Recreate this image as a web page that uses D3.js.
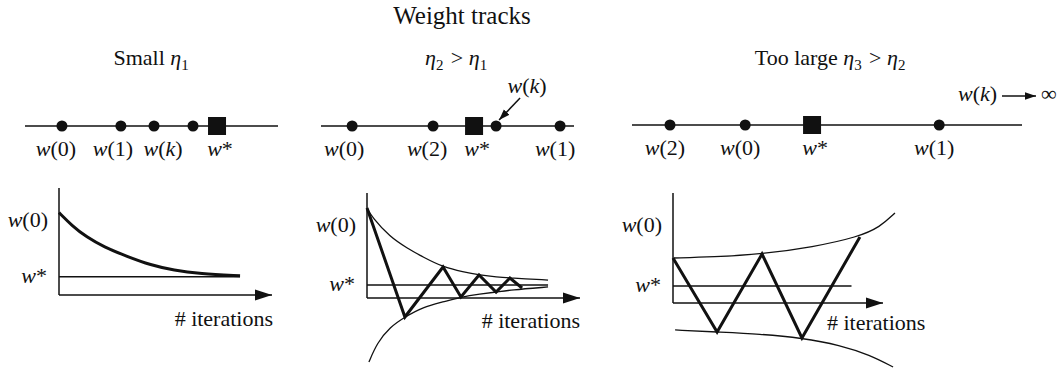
<!DOCTYPE html>
<html>
<head>
<meta charset="utf-8">
<script src="https://cdn.jsdelivr.net/npm/d3@7"></script>
<style>
body { margin:0; background:#fff; }
text { font-family:"Liberation Serif","Times New Roman",serif; fill:#111; }
</style>
</head>
<body>
<svg id="chart" width="1062" height="375"></svg>
<script>
// ------------------------------------------------------------------
//	weight tracks : learning rate too small / ok / too large
// ------------------------------------------------------------------
const chart_title = "Weight tracks"
const panel_titles = ["Small η_1", "η_2 > η_1", "Too large η_3 > η_2"]

// top : positions of w(k) on the weight axis
const track1_dots = [1.46, 3.79, 5.10, 6.64]
const track1_labels = ["w(0)", "w(1)", "w(k)", ""]
const track1_star = 7.59

const track2_dots = [1.23, 4.43, 6.92, 9.45]
const track2_labels = ["w(0)", "w(2)", "", "w(1)"]
const track2_star = 6.05

const track3_dots = [1.5, 4.47, 12.13]
const track3_labels = ["w(2)", "w(0)", "w(1)"]
const track3_star = 7.11

// bottom : weight vs # iterations (axis units 0..100)
const curve1_x = [0, 6, 13, 21, 32, 43, 54, 66, 85]
const curve1_y = [77, 65, 54, 45, 36, 28, 23, 20, 18]
const star1 = 17

const upper2_x = [0, 2.3, 10.8, 18.8, 26.3, 35.7, 45.1, 53.1, 61.0, 67.1, 85]
const upper2_y = [85.7, 77.1, 58.1, 47.6, 39.0, 29.5, 24.8, 21.9, 20.0, 19.0, 17.1]
const lower2_x = [0.9, 4.7, 10.8, 17.8, 26.3, 35.7, 44.1, 53.1, 61.0, 67.1, 85]
const lower2_y = [-61, -42.9, -27.6, -18.1, -8.6, -3.8, 1.0, 3.8, 5.7, 7.6, 10.5]
const zigzag2_x = [0, 17.8, 35.7, 44.1, 52.6, 60.6, 67.1, 72.8]
const zigzag2_y = [85.7, -18.1, 29.5, 1.0, 21.9, 5.7, 19.0, 9.5]
const star2 = 12.4

const upper3_x = [0.5, 19, 42.4, 66.7, 88.1, 98.6, 105.7]
const upper3_y = [40.9, 41.8, 44.5, 50.9, 60, 69.1, 81.8]
const lower3_x = [1, 21, 41.4, 61.4, 79.5, 93.8, 104.8]
const lower3_y = [-24.5, -26.4, -28.2, -31.8, -38.2, -47.3, -58.2]
const zigzag3_x = [0, 21, 42.4, 61.4, 89]
const zigzag3_y = [40.9, -26.4, 44.5, -31.8, 60]
const star3 = 15.5

// label nudges (layout only)
const track1_label_dx = [-6, -8, 9, 0]
const track2_label_dx = [-8, -6, 0, -5]
const track3_label_dx = [-5, -5, -5]

const zip = (a, b) => a.map((v, i) => [v, b[i]])

const svg = d3.select("#chart")

svg.append("defs").append("marker")
	.attr("id", "head")
	.attr("viewBox", "0 0 10 10")
	.attr("refX", 10).attr("refY", 5)
	.attr("markerWidth", 11).attr("markerHeight", 11)
	.attr("markerUnits", "userSpaceOnUse")
	.attr("orient", "auto")
	.append("path").attr("d", "M0,1.5L10,5L0,8.5Z").attr("fill", "#111")

// title
svg.append("text")
	.attr("x", 462).attr("y", 24)
	.attr("text-anchor", "middle")
	.attr("font-size", 25)
	.text(chart_title)

// ------------------------------------------------------------------
// text with italic letters : w(0), w(k), w*
function math_text (g, str, x, y, anchor)
{
const t = g.append("text")
	.attr("x", x).attr("y", y)
	.attr("text-anchor", anchor)
	.attr("font-size", 22)
str.match(/[a-zA-Z]+|[^a-zA-Z]+/g).forEach(function (s) {
	t.append("tspan")
		.attr("font-style", /[a-zA-Z]/.test(s) ? "italic" : "normal")
		.text(s)
	})
return t
}

// panel title, η_n gives eta with subscript
function panel_title (str, cx)
{
const t = svg.append("text")
	.attr("x", cx).attr("y", 65)
	.attr("text-anchor", "middle")
	.attr("font-size", 22)
str.split(/(η_\d)/).forEach(function (s) {
	if (s.startsWith("η_")) {
		t.append("tspan").attr("font-style", "italic").text("η")
		t.append("tspan").attr("font-size", 15).attr("dy", 5).text(s[2])
		t.append("tspan").attr("dy", -5).text("\u200a")
		}
	else if (s.length) t.append("tspan").text(s)
	})
}

// ------------------------------------------------------------------
function track_proc (dots, labels, label_dx, star, domain, range, ty)
{
const x = d3.scaleLinear().domain(domain).range(range)
const g = svg.append("g")

g.append("line")
	.attr("x1", x(domain[0])).attr("x2", x(domain[1]))
	.attr("y1", ty).attr("y2", ty)
	.attr("stroke", "#111").attr("stroke-width", 1.5)

g.selectAll("circle").data(dots).enter().append("circle")
	.attr("cx", d => x(d)).attr("cy", ty).attr("r", 5.5)
	.attr("fill", "#111")

g.append("rect")
	.attr("x", x(star) - 9).attr("y", ty - 9)
	.attr("width", 18).attr("height", 18)
	.attr("fill", "#111")

dots.forEach(function (d, i) {
	if (labels[i]) math_text(g, labels[i], x(d) + label_dx[i], ty + 30, "middle")
	})
math_text(g, "w*", x(star) + 3, ty + 30, "middle")
return x
}

// ------------------------------------------------------------------
function iter_proc (p)
{
const x = d3.scaleLinear().domain([0, 100]).range([p.left, p.right])
const y = d3.scaleLinear().domain([0, 100]).range([p.bottom, p.top])
const g = svg.append("g")
const line = d3.line().x(d => x(d[0])).y(d => y(d[1]))
const smooth = d3.line().x(d => x(d[0])).y(d => y(d[1])).curve(d3.curveBasis)

// axes
g.append("line")
	.attr("x1", x(0)).attr("x2", x(0)).attr("y1", y(100)).attr("y2", y(0))
	.attr("stroke", "#111").attr("stroke-width", 1.5)
g.append("line")
	.attr("x1", x(0)).attr("x2", x(100)).attr("y1", y(0)).attr("y2", y(0))
	.attr("stroke", "#111").attr("stroke-width", 1.5)
g.append("path")
	.attr("d", "M" + x(100) + "," + y(0) + "l-17,-5.5l0,11z")
	.attr("fill", "#111")

// w* level
g.append("line")
	.attr("x1", x(0)).attr("x2", x(85)).attr("y1", y(p.star)).attr("y2", y(p.star))
	.attr("stroke", "#111").attr("stroke-width", 1.5)

p.envelopes.forEach(function (e) {
	g.append("path").attr("d", smooth(e))
		.attr("fill", "none").attr("stroke", "#111").attr("stroke-width", 1.3)
	})
g.append("path").attr("d", p.smooth ? smooth(p.track) : line(p.track))
	.attr("fill", "none").attr("stroke", "#111").attr("stroke-width", 3)
	.attr("stroke-linejoin", "miter")

math_text(g, "w(0)", x(0) - 11, y(100) + 39, "end")
math_text(g, "w*", x(0) - 12, y(p.star) + 6, "end")
g.append("text")
	.attr("x", p.lab_x).attr("y", y(0) + p.lab_dy)
	.attr("text-anchor", p.lab_anchor)
	.attr("font-size", 22)
	.text("# iterations")
}

// ------------------------------------------------------------------
panel_title(panel_titles[0], 152)
panel_title(panel_titles[1], 457)
panel_title(panel_titles[2], 831)

track_proc(track1_dots, track1_labels, track1_label_dx, track1_star, [0, 10], [25, 278], 126)
const x2 = track_proc(track2_dots, track2_labels, track2_label_dx, track2_star, [0, 10], [321, 574], 126)
track_proc(track3_dots, track3_labels, track3_label_dx, track3_star, [0, 15.4], [632, 1022], 125)

// w(k) pointer in the middle panel
math_text(svg, "w(k)", x2(track2_dots[2]) + 31, 93, "middle")
svg.append("line")
	.attr("x1", x2(track2_dots[2]) + 24).attr("y1", 98)
	.attr("x2", x2(track2_dots[2]) + 3).attr("y2", 120)
	.attr("stroke", "#111").attr("stroke-width", 1.5)
	.attr("marker-end", "url(#head)")

// w(k) -> infinity
math_text(svg, "w(k)", 958, 101, "start")
svg.append("line")
	.attr("x1", 1002).attr("x2", 1036).attr("y1", 96).attr("y2", 96)
	.attr("stroke", "#111").attr("stroke-width", 1.5)
	.attr("marker-end", "url(#head)")
svg.append("text").attr("x", 1041).attr("y", 101).attr("font-size", 22).text("∞")

iter_proc({left: 59, right: 272, bottom: 295, top: 188, star: star1,
	track: zip(curve1_x, curve1_y), smooth: true, envelopes: [],
	lab_x: 273, lab_dy: 31, lab_anchor: "end"})
iter_proc({left: 367, right: 580, bottom: 298, top: 193, star: star2,
	track: zip(zigzag2_x, zigzag2_y), smooth: false,
	envelopes: [zip(upper2_x, upper2_y), zip(lower2_x, lower2_y)],
	lab_x: 580, lab_dy: 30, lab_anchor: "end"})
iter_proc({left: 673, right: 883, bottom: 303, top: 193, star: star3,
	track: zip(zigzag3_x, zigzag3_y), smooth: false,
	envelopes: [zip(upper3_x, upper3_y), zip(lower3_x, lower3_y)],
	lab_x: 827, lab_dy: 27, lab_anchor: "start"})
</script>
</body>
</html>
